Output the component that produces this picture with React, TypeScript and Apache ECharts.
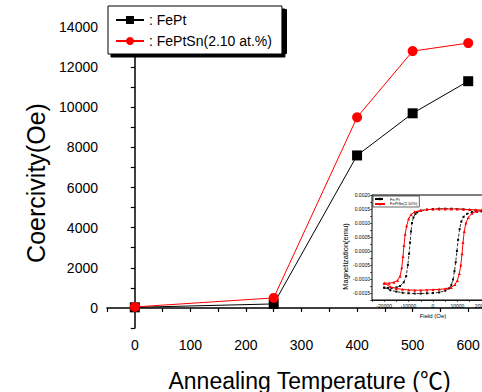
import React, { useEffect, useRef } from "react";
import * as echarts from "echarts";

// Main chart data
const temps = [0, 250, 400, 500, 600];
const coercFePt = [30, 200, 7600, 9700, 11300];
const coercFePtSn = [50, 500, 9500, 12800, 13200];
const xTickLabels = ["0", "100", "200", "300", "400", "500", "600"];
const yTickLabels = ["0", "2000", "4000", "6000", "8000", "10000", "12000", "14000"];

// Inset hysteresis: FePt (black) — upper branch then lower branch
const fePtUpperH = [20000, 17500, 15000, 12500, 10000, 7500, 5000, 2500, 0, -2500, -5000, -6500, -7200, -8000, -8600, -9000, -9400, -9800, -10300, -11000, -12000, -13500, -15000, -17000, -18500, -20000];
const fePtUpperM = [0.00142, 0.00145, 0.00147, 0.00149, 0.0015, 0.00151, 0.00151, 0.00151, 0.0015, 0.00148, 0.00144, 0.00138, 0.00132, 0.0012, 0.001, 0.0007, 0.0003, -0.0001, -0.0005, -0.0009, -0.00112, -0.00125, -0.0013, -0.00132, -0.00132, -0.00131];
const fePtLowerH = [-20000, -17500, -15000, -12500, -10000, -7500, -5000, -2500, 0, 2500, 5000, 6500, 7500, 8200, 8800, 9300, 9800, 10300, 10900, 11600, 12500, 14000, 16000, 18000, 20000];
const fePtLowerM = [-0.00131, -0.0014, -0.00145, -0.00149, -0.00151, -0.00152, -0.00152, -0.00151, -0.0015, -0.00148, -0.00142, -0.00134, -0.00122, -0.00102, -0.00072, -0.0004, 0.0, 0.0004, 0.00078, 0.00105, 0.00122, 0.00133, 0.00139, 0.00141, 0.00142];

// Inset hysteresis: FePtSn (red)
const fePtSnUpperH = [20000, 17500, 15000, 12500, 10000, 7500, 5000, 2500, 0, -2500, -5000, -7500, -9000, -10000, -10800, -11400, -11900, -12300, -12800, -13500, -14500, -16000, -18000, -20000];
const fePtSnUpperM = [0.00146, 0.00147, 0.00148, 0.00149, 0.0015, 0.0015, 0.0015, 0.0015, 0.00149, 0.00148, 0.00145, 0.0014, 0.0013, 0.00115, 0.0009, 0.0006, 0.0002, -0.0002, -0.0006, -0.0009, -0.00105, -0.00112, -0.00115, -0.00115];
const fePtSnLowerH = [-20000, -17500, -15000, -12500, -10000, -7500, -5000, -2500, 0, 2500, 5000, 7500, 9000, 10000, 10800, 11400, 11900, 12300, 12800, 13500, 14500, 16000, 18000, 20000];
const fePtSnLowerM = [-0.00115, -0.00128, -0.00134, -0.00137, -0.00139, -0.0014, -0.0014, -0.00139, -0.00138, -0.00137, -0.00135, -0.0013, -0.0012, -0.00105, -0.0008, -0.0005, -0.0001, 0.0003, 0.0007, 0.001, 0.0012, 0.00135, 0.00142, 0.00146];
const insetXTickLabels = ["-20000", "-10000", "0", "10000", "20000"];

const FONT = "'Liberation Sans', Arial, 'Noto Sans CJK SC', sans-serif";

function pairs(h: number[], m: number[]) {
  return h.map((v, i) => [v, m[i]]);
}

export default function App() {
  const ref = useRef<HTMLDivElement>(null);
  useEffect(() => {
    if (!ref.current) return;
    const chart = echarts.init(ref.current, undefined, { renderer: "svg" });
    const blackLoop = pairs(fePtUpperH, fePtUpperM).concat(pairs(fePtLowerH, fePtLowerM));
    const redLoop = pairs(fePtSnUpperH, fePtSnUpperM).concat(pairs(fePtSnLowerH, fePtSnLowerM));
    chart.setOption({
      animation: false,
      backgroundColor: "#fff",
      textStyle: { fontFamily: FONT },
      grid: [
        { left: 107, top: 17, width: 389, height: 311, show: false, outerBoundsMode: "none", containLabel: false },
        { left: 372, top: 195, width: 122, height: 105, show: true, backgroundColor: "#fff", borderColor: "#000", borderWidth: 1, z: 5, outerBoundsMode: "none", containLabel: false },
      ],
      graphic: [
        {
          type: "rect",
          left: 111,
          top: 9,
          z: 25,
          silent: true,
          shape: { width: 175, height: 44 },
          style: { fill: "#000", stroke: "#000" },
        },
      ],
      legend: [
        {
          data: ["FePt", "FePtSn(2.10 at.%)"],
          orient: "vertical",
          left: 108,
          top: 6,
          width: 175,
          padding: [6, 10, 5, 7],
          itemWidth: 28,
          itemHeight: 10,
          itemGap: 5,
          backgroundColor: "#fff",
          borderColor: "#000",
          borderWidth: 1,
          shadowColor: "#000",
          shadowBlur: 1,
          shadowOffsetX: 3,
          shadowOffsetY: 3,
          formatter: (n: string) => ": " + n,
          textStyle: { fontSize: 14, color: "#000", fontFamily: FONT, lineHeight: 16 },
          z: 30,
        },
        {
          data: ["Fe Pt", "FePtSn(2.10%)"],
          orient: "vertical",
          left: 373,
          top: 196,
          padding: [1, 2, 1, 1],
          itemWidth: 10,
          itemHeight: 3,
          itemGap: 1,
          backgroundColor: "#fff",
          borderColor: "#000",
          borderWidth: 0.6,
          textStyle: { fontSize: 4, color: "#000", fontFamily: FONT },
          z: 10,
        },
      ],
      xAxis: [
        {
          type: "value",
          gridIndex: 0,
          min: -50,
          max: 650,
          interval: 50,
          axisLine: { show: true, lineStyle: { color: "#000", width: 1.5 } },
          axisTick: { show: true, length: 4, lineStyle: { color: "#000", width: 1.2 } },
          splitLine: { show: false },
          axisLabel: {
            fontSize: 14,
            color: "#000",
            margin: 10,
            fontFamily: FONT,
            formatter: (v: number) => {
              const s = String(v);
              return xTickLabels.indexOf(s) >= 0 ? s : "";
            },
          },
          name: "Annealing Temperature (\u2103)",
          nameLocation: "middle",
          nameGap: 41,
          nameTextStyle: { fontSize: 23, color: "#000", fontFamily: FONT, padding: [0, 0, 0, 16] },
        },
        {
          type: "value",
          gridIndex: 1,
          min: -25000,
          max: 25000,
          interval: 5000,
          axisLine: { show: true, onZero: false, lineStyle: { color: "#000", width: 0.8 } },
          axisTick: { show: true, length: 2, lineStyle: { color: "#000", width: 0.6 } },
          splitLine: { show: false },
          axisLabel: {
            fontSize: 5,
            color: "#000",
            margin: 3,
            fontFamily: FONT,
            formatter: (v: number) => {
              const s = String(v);
              return insetXTickLabels.indexOf(s) >= 0 ? s : "";
            },
          },
          name: "Field (Oe)",
          nameLocation: "middle",
          nameGap: 13,
          nameTextStyle: { fontSize: 6, color: "#000", fontFamily: FONT },
        },
      ],
      yAxis: [
        {
          type: "value",
          gridIndex: 0,
          min: -1000,
          max: 14500,
          interval: 1000,
          axisLine: { show: true, lineStyle: { color: "#000", width: 1.5 } },
          axisTick: { show: true, length: 4, lineStyle: { color: "#000", width: 1.2 } },
          splitLine: { show: false },
          axisLabel: {
            fontSize: 14,
            color: "#000",
            margin: 9,
            fontFamily: FONT,
            formatter: (v: number) => {
              const s = String(v);
              return yTickLabels.indexOf(s) >= 0 ? s : "";
            },
          },
          name: "Coercivity(Oe)",
          nameLocation: "middle",
          nameGap: 58,
          nameTextStyle: { fontSize: 25, color: "#000", fontFamily: FONT, padding: [0, 21, 0, 0] },
        },
        {
          type: "value",
          gridIndex: 1,
          min: -0.00175,
          max: 0.002,
          interval: 0.00025,
          axisLine: { show: true, onZero: false, lineStyle: { color: "#000", width: 0.8 } },
          axisTick: { show: true, length: 2, lineStyle: { color: "#000", width: 0.6 } },
          splitLine: { show: false },
          axisLabel: {
            fontSize: 5,
            color: "#000",
            margin: 2,
            fontFamily: FONT,
            formatter: (v: number) => {
              const k = Math.round(v * 4000);
              if (Math.abs(v * 4000 - k) > 1e-6 || k % 2 !== 0) return "";
              return v.toFixed(4);
            },
          },
          name: "Magnetization(emu)",
          nameLocation: "middle",
          nameGap: 22,
          nameTextStyle: { fontSize: 7.5, color: "#000", fontFamily: FONT, padding: [0, 18, 0, 0] },
        },
      ],
      series: [
        {
          name: "FePt",
          type: "line",
          xAxisIndex: 0,
          yAxisIndex: 0,
          data: temps.map((t, i) => [t, coercFePt[i]]),
          symbol: "rect",
          symbolSize: 10,
          color: "#000",
          itemStyle: { color: "#000" },
          lineStyle: { color: "#000", width: 1 },
          z: 2,
        },
        {
          name: "FePtSn(2.10 at.%)",
          type: "line",
          xAxisIndex: 0,
          yAxisIndex: 0,
          data: temps.map((t, i) => [t, coercFePtSn[i]]),
          symbol: "circle",
          symbolSize: 10,
          color: "#ff0000",
          itemStyle: { color: "#ff0000" },
          lineStyle: { color: "#ff0000", width: 1 },
          z: 3,
        },
        {
          name: "Fe Pt",
          type: "line",
          xAxisIndex: 1,
          yAxisIndex: 1,
          data: blackLoop,
          symbol: "rect",
          symbolSize: 2,
          color: "#000",
          itemStyle: { color: "#000" },
          lineStyle: { color: "#000", width: 0.8, type: "dashed" },
          z: 6,
        },
        {
          name: "FePtSn(2.10%)",
          type: "line",
          xAxisIndex: 1,
          yAxisIndex: 1,
          data: redLoop,
          symbol: "triangle",
          symbolSize: 3,
          color: "#ff0000",
          itemStyle: { color: "#ff0000" },
          lineStyle: { color: "#ff0000", width: 1 },
          z: 7,
        },
      ],
    });
    return () => chart.dispose();
  }, []);
  return <div ref={ref} style={{ position: "fixed", left: 0, top: 0, width: 482, height: 392 }} />;
}
